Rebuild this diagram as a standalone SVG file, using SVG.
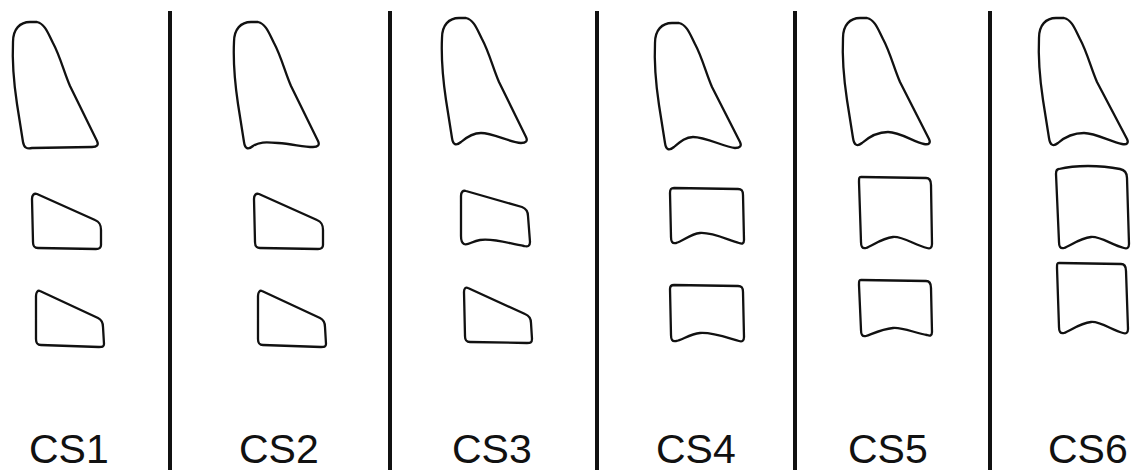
<svg xmlns="http://www.w3.org/2000/svg" width="1131" height="470" viewBox="0 0 1131 470">
<style>
.v{fill:none;stroke:#111;stroke-width:2.3;stroke-linejoin:round;stroke-linecap:round}
.d{stroke:#111;stroke-width:4}
.t{font-family:"Liberation Sans",Arial,Helvetica,sans-serif;font-size:41px;fill:#111}
</style>
<rect width="1131" height="470" fill="#fff"/>
<g id="dividers">
<line class="d" x1="170" y1="11" x2="170" y2="470"/>
<line class="d" x1="390" y1="11" x2="390" y2="470"/>
<line class="d" x1="597" y1="11" x2="597" y2="470"/>
<line class="d" x1="795" y1="11" x2="795" y2="470"/>
<line class="d" x1="990" y1="11" x2="990" y2="470"/>
</g>
<g id="cs1">
<path class="v" transform="translate(12,22)" d="M 18,0 C 8,0 1,7 1,20 C 0,42 2,62 5,82 L 11,120 C 12,126 15,127 20,126 L 80,125 C 85,125 87,123 85,119 L 58,64 C 52,50 48,34 41,21 C 36,11 33,2 25,0 Z"/>
<path class="v" d="M 37,194 L 95,220 C 100,222 101,225 101,230 L 101,245 C 101,248 99,249 96,249 L 38,248 C 34,248 33,246 33,242 L 32,199 C 32,195 34,193 37,194 Z"/>
<path class="v" d="M 40,291 L 98,318 C 102,320 103,323 103,327 L 104,344 C 104,347 102,347 99,347 L 41,345 C 37,345 36,343 36,339 L 36,296 C 36,292 38,290 40,291 Z"/>
<text class="t" x="29" y="463">CS1</text>
</g>
<g id="cs2">
<path class="v" transform="translate(233,22)" d="M 18,0 C 8,0 1,7 1,20 C 0,42 2,62 5,82 L 11,120 C 12,127 15,128 20,124 C 26,120 32,120 45,121 C 60,122 70,125 80,125 C 85,125 87,123 85,119 L 58,64 C 52,50 48,34 41,21 C 36,11 33,2 25,0 Z"/>
<path class="v" transform="translate(222,0)" d="M 37,194 L 95,220 C 100,222 101,225 101,230 L 101,245 C 101,248 99,249 96,249 L 38,248 C 34,248 33,246 33,242 L 32,199 C 32,195 34,193 37,194 Z"/>
<path class="v" transform="translate(222,0)" d="M 40,291 L 98,318 C 102,320 103,323 103,327 L 104,344 C 104,347 102,347 99,347 L 41,345 C 37,345 36,343 36,339 L 36,296 C 36,292 38,290 40,291 Z"/>
<text class="t" x="239" y="463">CS2</text>
</g>
<g id="cs3">
<path class="v" transform="translate(441,18)" d="M 18,0 C 8,0 1,7 1,20 C 0,42 2,62 5,82 L 11,120 C 12,127 15,128 20,124 C 27,118 33,115 40,115 C 52,115 68,124 80,125 C 85,125 87,123 85,119 L 58,64 C 52,50 48,34 41,21 C 36,11 33,2 25,0 Z"/>
<path class="v" d="M 466,191 L 522,207 C 527,209 528,212 528,216 L 530,242 C 530,246 528,247 524,246 C 510,244 495,238 480,240 C 472,241 468,246 464,244 C 462,243 461,240 461,236 L 461,196 C 461,192 463,190 466,191 Z"/>
<path class="v" d="M 468,288 L 525,314 C 530,316 531,319 531,323 L 532,339 C 532,343 530,343 527,343 L 470,342 C 466,342 465,340 465,336 L 464,292 C 464,288 466,287 468,288 Z"/>
<text class="t" x="452" y="463">CS3</text>
</g>
<g id="cs4">
<path class="v" transform="translate(654,23)" d="M 18,0 C 8,0 1,7 1,20 C 0,42 2,62 5,82 L 11,120 C 12,127 15,128 20,124 C 27,118 32,114 39,114 C 52,114 70,124 81,125 C 86,125 88,123 86,119 L 58,64 C 52,50 48,34 41,21 C 36,11 33,2 25,0 Z"/>
<path class="v" d="M 674,188 L 738,189 C 742,189 743,191 743,195 L 744,240 C 744,244 742,244 739,243 C 728,240 712,232 700,233 C 690,234 682,242 676,243 C 672,244 671,241 671,237 L 670,193 C 670,189 671,188 674,188 Z"/>
<path class="v" d="M 674,285 L 738,286 C 742,286 743,288 743,292 L 744,337 C 744,341 742,342 739,341 C 728,338 712,332 700,333 C 690,334 682,340 676,341 C 672,342 671,339 671,335 L 670,289 C 670,286 671,285 674,285 Z"/>
<text class="t" x="656" y="463">CS4</text>
</g>
<g id="cs5">
<path class="v" transform="translate(842,18)" d="M 18,0 C 8,0 1,7 1,20 C 0,42 2,62 5,82 L 11,120 C 12,127 15,129 20,125 C 28,118 38,114 46,114 C 58,114 72,124 82,126 C 87,127 89,125 87,121 L 58,64 C 52,50 48,34 41,21 C 36,11 33,2 25,0 Z"/>
<path class="v" d="M 861,177 L 926,178 C 930,178 931,181 931,185 L 932,244 C 932,248 930,249 927,248 C 915,245 902,236 893,237 C 882,238 872,246 866,248 C 862,249 861,246 861,242 L 859,182 C 859,178 859,177 861,177 Z"/>
<path class="v" d="M 861,280 L 926,281 C 930,281 931,284 931,288 L 932,332 C 932,336 930,336 927,335 C 915,333 902,327 893,328 C 882,329 872,334 866,336 C 862,337 861,334 861,330 L 859,285 C 859,281 859,280 861,280 Z"/>
<text class="t" x="848" y="463">CS5</text>
</g>
<g id="cs6">
<path class="v" transform="translate(1038,18)" d="M 18,0 C 8,0 1,7 1,20 C 0,42 2,62 5,82 L 11,120 C 12,127 15,129 20,125 C 28,118 38,115 46,115 C 58,115 73,124 84,126 C 89,127 91,125 89,121 L 59,64 C 53,50 49,34 42,21 C 37,11 34,2 26,0 Z"/>
<path class="v" d="M 1059,169 C 1075,165 1100,165 1120,169 C 1125,170 1127,173 1127,178 L 1129,244 C 1129,248 1127,249 1124,248 C 1112,245 1100,236 1091,237 C 1080,238 1070,246 1064,248 C 1060,249 1059,246 1059,242 L 1056,174 C 1056,170 1057,169 1059,169 Z"/>
<path class="v" d="M 1059,263 L 1121,264 C 1125,264 1126,267 1126,271 L 1128,329 C 1128,333 1126,334 1123,333 C 1112,330 1100,321 1091,322 C 1080,323 1070,331 1064,333 C 1060,334 1059,331 1059,327 L 1057,268 C 1057,264 1057,263 1059,263 Z"/>
<text class="t" x="1048" y="463">CS6</text>
</g>
</svg>
